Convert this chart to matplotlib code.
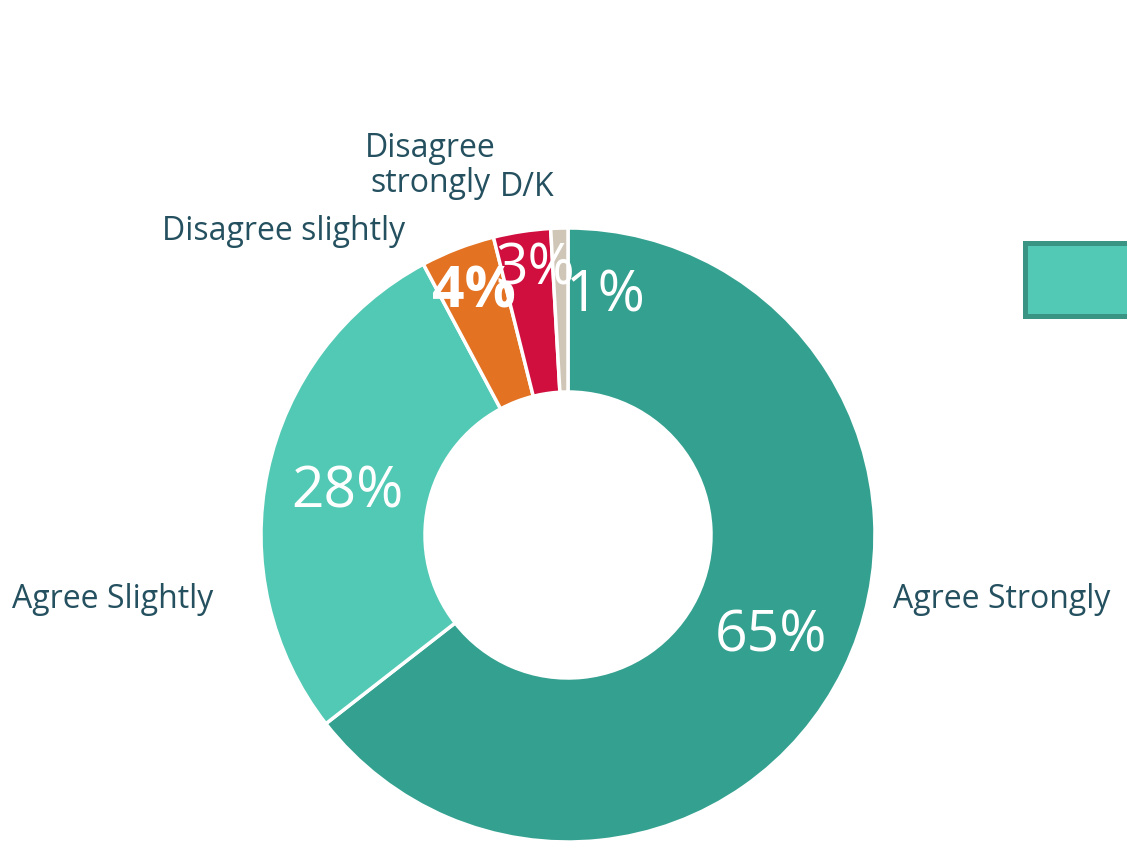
import matplotlib
matplotlib.use("Agg")
import matplotlib.pyplot as plt
from matplotlib.patches import Rectangle

# data (clockwise from 12 o'clock)
categories = ["Agree Strongly", "Agree Slightly", "Disagree slightly",
              "Disagree strongly", "D/K"]
shares = [64.4, 27.7, 3.9, 3.0, 0.9]
pct_labels = ["65%", "28%", "4%", "3%", "1%"]
colors = ["#34A190", "#52C9B4", "#E37222", "#D10F3E", "#CFC6B8"]

W, H = 1127, 843
txt_col = "#24505F"
plt.rcParams['font.family'] = ['Open Sans', 'DejaVu Sans']

fig = plt.figure(figsize=(W / 100, H / 100), dpi=100)
ax = fig.add_axes([0, 0, 1, 1])


def py(y):
    # pixel row -> data y
    return H - y


ax.pie(shares, colors=colors, startangle=90, counterclock=False,
       center=(568, py(535)), radius=307,
       wedgeprops=dict(width=164, edgecolor="white", linewidth=2.5))

# percentage labels (positions as Excel placed them)
pct_pos = [(771, 637), (347, 493), (474, 293), (535, 270), (606, 297)]
for lab, (x, y) in zip(pct_labels, pct_pos):
    ax.text(x, py(y), lab, color="white", fontsize=41, ha="center", va="center",
            fontweight="bold" if lab == "4%" else "normal")

# category labels
fs = 23
ax.text(893, py(600), categories[0], color=txt_col, fontsize=fs, ha="left", va="center")
ax.text(213, py(600), categories[1], color=txt_col, fontsize=fs, ha="right", va="center")
ax.text(405, py(232), categories[2], color=txt_col, fontsize=fs, ha="right", va="center")
ax.text(430, py(166), "Disagree\nstrongly", color=txt_col, fontsize=fs,
        ha="center", va="center", linespacing=1.05)
ax.text(500, py(188), categories[4], color=txt_col, fontsize=fs, ha="left", va="center")

# clipped legend swatch at the right edge
ax.add_patch(Rectangle((1024.5, py(315.5)), 200, 73, facecolor="#52C9B4",
                       edgecolor="#3A9484", linewidth=3.6, clip_on=True))

ax.set_xlim(0, W)
ax.set_ylim(0, H)
ax.set_aspect("auto")
ax.axis("off")

fig.savefig("out.png", dpi=100, facecolor="white")
